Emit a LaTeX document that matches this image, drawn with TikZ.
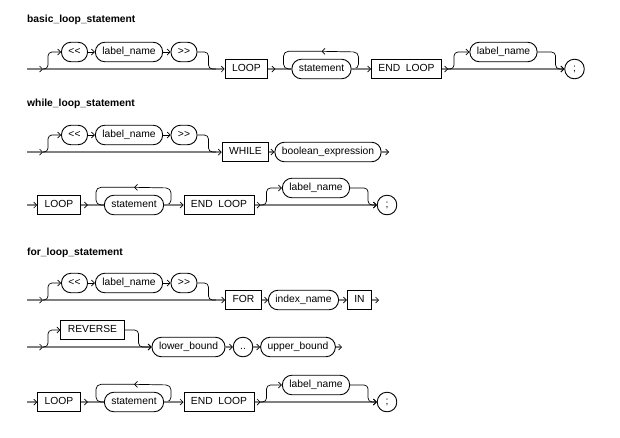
\documentclass[tikz,border=0pt]{standalone}
\usepackage{fontspec}
\setmainfont{Liberation Sans}
\usetikzlibrary{arrows.meta}
\tikzset{
  kwbox/.style={draw, line width=0.9pt, inner xsep=7pt, minimum height=19.5pt, text height=7.6pt, text depth=2pt, font=\fontsize{10.3}{12}\selectfont},
  termoval/.style={kwbox, rounded corners=9.5pt},
  semi/.style={minimum width=19.5pt, inner xsep=0pt},
  mainline/.style={draw=gray, line width=1.4pt},
  branchline/.style={draw=black, line width=0.7pt},
  arrowin/.style={-{Straight Barb[length=3pt,width=6pt,line width=0.7pt,black]}},
  titletext/.style={anchor=west, inner sep=0pt, font=\fontsize{10.3}{12}\selectfont\bfseries},
}
% optional << label_name >> in front of a row: #1 = y of main line, #2 = row tag
\newcommand\lblopt[2]{%
  \coordinate (s#2) at (27,#1);
  \coordinate (sp#2) at (43,#1);
  \coordinate (j#2) at (216,#1);
  \node[termoval] (lt#2) at (74.5,#1-17) {<\kern0pt<};
  \node[termoval] (ln#2) at (129,#1-17) {label\_name};
  \node[termoval] (gt#2) at (184,#1-17) {>\kern0pt>};
  \draw[mainline] (sp#2) -- (j#2);
  \draw[mainline,arrowin] (s#2) -- (sp#2);
  \draw[branchline,rounded corners=4pt,arrowin] (sp#2) -- ++(5,0) -- ++(0,-17) -- (lt#2.west);
  \draw[branchline,arrowin] (lt#2) -- (ln#2);
  \draw[branchline,arrowin] (ln#2) -- (gt#2);
  \draw[branchline,rounded corners=4pt] (gt#2.east) -- ++(11,0) -- ++(0,17) -- (j#2);
}
% LOOP statement END LOOP [label_name] ; : #1 = x of LOOP, #2 = y of main line, #3 = row tag
\newcommand\loopbody[3]{%
  \node[kwbox] (lp#3) at (#1,#2) {LOOP};
  \node[termoval] (st#3) at (#1+75,#2) {statement};
  \node[kwbox] (el#3) at (#1+160,#2) {END\ \ LOOP};
  \node[termoval] (lb#3) at (#1+257,#2-17) {label\_name};
  \node[termoval,semi] (sc#3) at (#1+328,#2) {;};
  \draw[mainline] (lp#3.east) -- (st#3.west);
  \draw[mainline,arrowin] (lp#3.east) -- ++(7,0);
  \draw[branchline,rounded corners=5pt,arrowin] (st#3.east) -- ++(7,0) -- ++(0,-17) -- ([yshift=7.5pt]st#3.north);
  \draw[branchline,rounded corners=5pt] ([yshift=7.5pt]st#3.north) -| ([xshift=-8pt]st#3.west) -- (st#3.west);
  \draw[mainline,arrowin] (st#3) -- (el#3);
  \draw[mainline,arrowin] (el#3) -- (sc#3);
  \draw[mainline,arrowin] (el#3.east) -- ++(6,0);
  \draw[branchline,rounded corners=4pt,arrowin] ([xshift=6pt]el#3.east) -- ++(6,0) -- ++(0,-17) -- (lb#3.west);
  \draw[branchline,rounded corners=4pt,arrowin] (lb#3.east) -- ++(18,0) -- ++(0,17) -- (sc#3.west);
}
\begin{document}
\begin{tikzpicture}[x=1pt,y=-1pt]
\fill[white] (0,0) rectangle (620,437);
\useasboundingbox (0,0) rectangle (620,437);
% basic_loop_statement
\node[titletext] (t1) at (27,19.5) {basic\_loop\_statement};
\lblopt{69}{1}
\loopbody{246.5}{69}{1}
\draw[mainline,arrowin] (j1) -- (lp1.west);
% while_loop_statement
\node[titletext] (t2) at (27,104) {while\_loop\_statement};
\lblopt{152}{2}
\node[kwbox] (wh2) at (245.5,152) {WHILE};
\node[termoval] (be2) at (328,152) {boolean\_expression};
\coordinate (e2) at (389,152);
\draw[mainline,arrowin] (j2) -- (wh2.west);
\draw[mainline,arrowin] (wh2) -- (be2);
\draw[mainline,arrowin] (be2) -- (e2);
\coordinate (s4) at (27,205);
\loopbody{59}{205}{4}
\draw[mainline,arrowin] (s4) -- (lp4.west);
% for_loop_statement
\node[titletext] (t3) at (27,252.5) {for\_loop\_statement};
\lblopt{300}{3}
\node[kwbox] (fo3) at (243.5,300) {FOR};
\node[termoval] (ix3) at (303.5,300) {index\_name};
\node[kwbox] (in3) at (359.5,300) {IN};
\coordinate (e3) at (379,300);
\draw[mainline,arrowin] (j3) -- (fo3.west);
\draw[mainline,arrowin] (fo3) -- (ix3);
\draw[mainline,arrowin] (ix3) -- (in3);
\draw[mainline,arrowin] (in3) -- (e3);
\coordinate (s5) at (27,347);
\coordinate (sp5) at (43,347);
\node[kwbox] (rv5) at (92.5,330) {REVERSE};
\node[termoval] (lo5) at (188.5,347) {lower\_bound};
\node[termoval,semi] (dd5) at (243,347) {..};
\node[termoval] (up5) at (298,347) {upper\_bound};
\coordinate (e5) at (342,347);
\draw[mainline,arrowin] (s5) -- (sp5);
\draw[mainline,arrowin] (sp5) -- (lo5.west);
\draw[branchline,rounded corners=4pt,arrowin] (sp5) -- ++(5,0) -- ++(0,-17) -- (rv5.west);
\draw[branchline,rounded corners=4pt,arrowin] (rv5.east) -- ++(14,0) -- ++(0,17) -- (lo5.west);
\draw[mainline,arrowin] (lo5) -- (dd5);
\draw[mainline,arrowin] (dd5) -- (up5);
\draw[mainline,arrowin] (up5) -- (e5);
\coordinate (s6) at (27,402);
\loopbody{59}{402}{6}
\draw[mainline,arrowin] (s6) -- (lp6.west);
\end{tikzpicture}
\end{document}
